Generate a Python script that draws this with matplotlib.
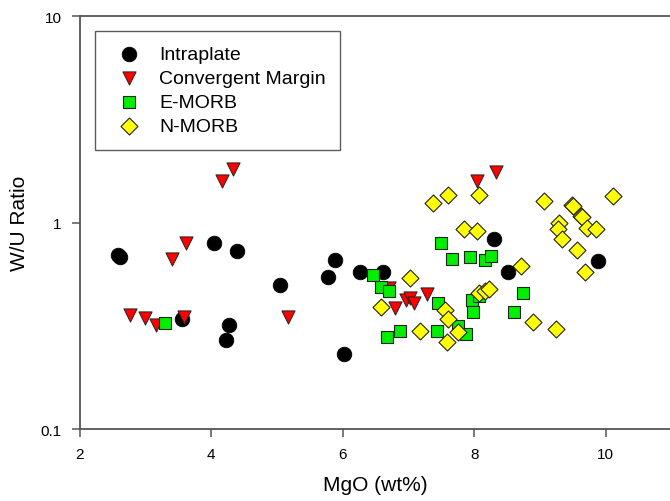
import numpy as np
import matplotlib.pyplot as plt
from matplotlib.ticker import FixedLocator, NullLocator, FixedFormatter

plt.rcParams['font.family'] = ['Liberation Sans', 'DejaVu Sans']

# Intraplate
ip_mgo = [2.58, 2.62, 3.55, 4.05, 4.39, 4.27, 4.22, 5.04, 5.77, 5.88, 6.02, 6.27, 6.61, 8.30, 8.52, 9.88]
ip_wu = [0.70, 0.68, 0.34, 0.80, 0.73, 0.32, 0.27, 0.50, 0.545, 0.66, 0.23, 0.58, 0.58, 0.83, 0.58, 0.65]

# Convergent margin
cm_mgo = [2.77, 3.00, 3.16, 3.58, 3.41, 3.62, 4.16, 4.33, 5.17, 6.70, 6.79, 6.97, 7.02, 7.08, 7.29, 8.05, 8.34]
cm_wu = [0.357, 0.345, 0.32, 0.35, 0.67, 0.80, 1.59, 1.82, 0.35, 0.48, 0.385, 0.42, 0.43, 0.41, 0.45, 1.59, 1.76]

# E-MORB
em_mgo = [3.29, 6.46, 6.59, 6.70, 6.67, 6.87, 7.49, 7.66, 7.93, 8.16, 8.26, 8.74, 8.61,
          7.45, 7.96, 7.98, 8.07, 7.43, 7.75, 7.87]
em_wu = [0.326, 0.56, 0.49, 0.466, 0.28, 0.30, 0.80, 0.665, 0.68, 0.66, 0.69, 0.456, 0.37,
         0.41, 0.42, 0.37, 0.44, 0.30, 0.316, 0.288]

# N-MORB
nm_mgo = [6.58, 7.03, 7.37, 7.60, 8.07, 7.84, 8.05, 8.72, 7.55, 7.60, 7.17, 7.75, 7.58,
          8.08, 8.16, 8.22, 8.89, 9.24, 9.07, 9.49, 9.50, 10.11, 9.29, 9.27, 9.33,
          9.62, 9.64, 9.71, 9.86, 9.56, 9.68]
nm_wu = [0.39, 0.54, 1.24, 1.36, 1.36, 0.93, 0.91, 0.62, 0.377, 0.34, 0.30, 0.295, 0.264,
         0.456, 0.466, 0.477, 0.33, 0.305, 1.27, 1.22, 1.20, 1.34, 1.00, 0.93, 0.83,
         1.08, 1.06, 0.94, 0.93, 0.74, 0.575]

fig = plt.figure(figsize=(6.7, 5.02), dpi=100)
ax = fig.add_axes([0.119, 0.143, 0.883, 0.823])

ax.scatter(ip_mgo, ip_wu, s=110, marker='o', c='black', edgecolors='black', linewidths=0.6,
           label='Intraplate', zorder=3)
ax.scatter(cm_mgo, cm_wu, s=90, marker='v', c='red', edgecolors='#222222', linewidths=0.7,
           label='Convergent Margin', zorder=3)
ax.scatter(em_mgo, em_wu, s=80, marker='s', c='#00ee00', edgecolors='#222222', linewidths=0.8,
           label='E-MORB', zorder=3)
ax.scatter(nm_mgo, nm_wu, s=75, marker='D', c='#ffff00', edgecolors='#222222', linewidths=0.8,
           label='N-MORB', zorder=3)

ax.set_yscale('log')
ax.set_xlim(2, 11)
ax.set_ylim(0.1, 10)
ax.xaxis.set_major_locator(FixedLocator([2, 4, 6, 8, 10]))
ax.yaxis.set_major_locator(FixedLocator([0.1, 1, 10]))
ax.yaxis.set_major_formatter(FixedFormatter(['0.1', '1', '10']))
ax.yaxis.set_minor_locator(NullLocator())

for side in ['left', 'bottom', 'top']:
    ax.spines[side].set_color('#555555')
    ax.spines[side].set_linewidth(1.3)
ax.spines['right'].set_visible(False)
ax.tick_params(direction='out', length=6, width=1.1, color='#555555', labelsize=11, pad=7)

ax.set_xlabel('MgO (wt%)', fontsize=15, labelpad=10)
ax.set_ylabel('W/U Ratio', fontsize=15, labelpad=8)

leg = ax.legend(loc='upper left', bbox_to_anchor=(0.026, 0.964), fontsize=14, frameon=True,
                fancybox=False, edgecolor='#333333', borderpad=0.75, handlelength=2.0,
                handletextpad=0.55, labelspacing=0.33, borderaxespad=0)
leg.get_frame().set_linewidth(1.0)

fig.savefig('out.png', dpi=100)
